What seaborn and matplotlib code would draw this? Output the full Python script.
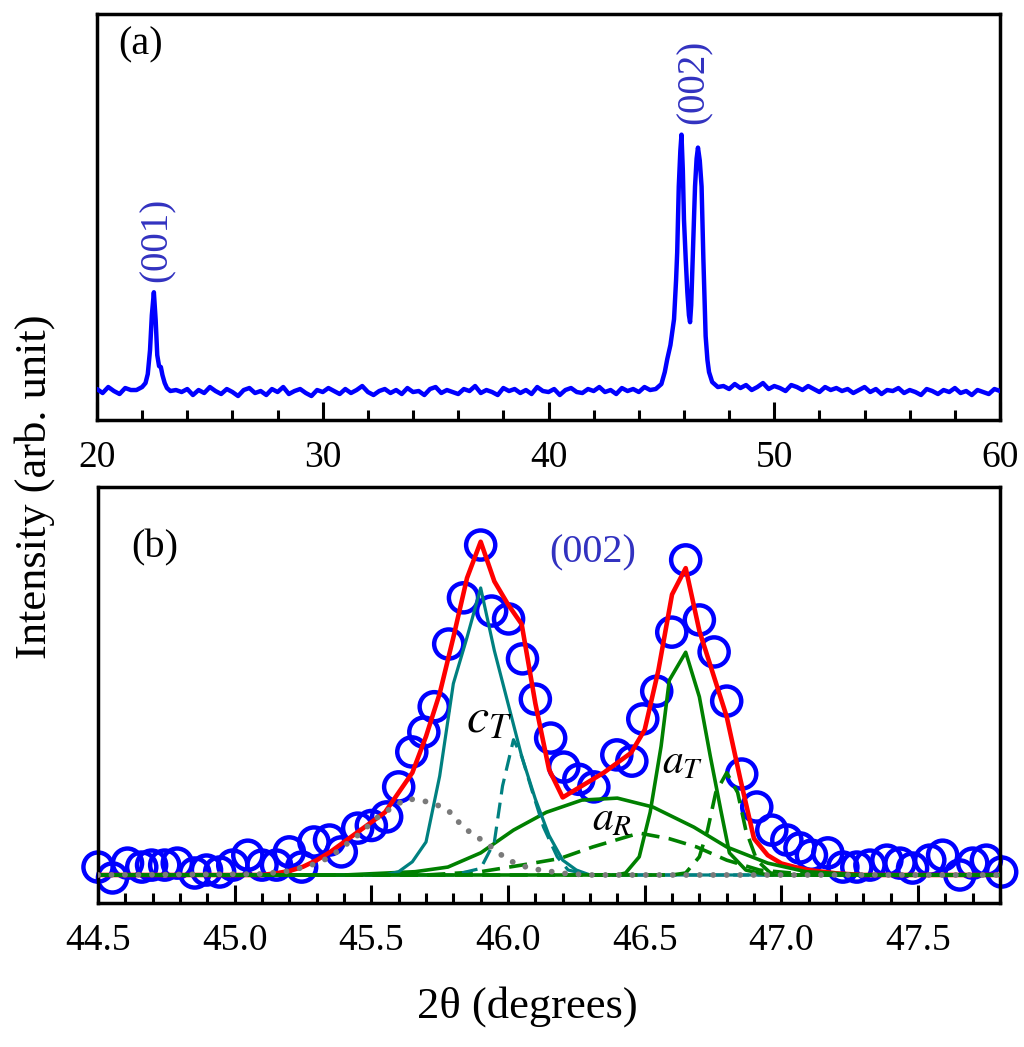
import numpy as np
import matplotlib
matplotlib.use('Agg')
import matplotlib.pyplot as plt
import seaborn as sns
from matplotlib.ticker import MultipleLocator, FormatStrFormatter

# ---------------- panel (a): wide 2theta scan ----------------
# scan step of the background parts is 0.25 deg, intensities read off the plot
base1_x = np.arange(20.0, 21.51, 0.25)
base1_y = [31, 27, 33, 29, 26, 32, 30]

peak001_x = [21.75, 22.0, 22.15, 22.25, 22.35, 22.43, 22.52, 22.6, 22.67, 22.75,
             22.83, 22.9, 23.0, 23.1, 23.25, 23.5]
peak001_y = [30, 33, 37, 46, 70, 105, 128, 100, 65, 54, 53, 45, 37, 32, 29, 30]

base2_x = np.arange(23.75, 44.51, 0.25)
base2_y = [28, 31, 25, 30, 27, 33, 29, 26, 31, 28, 24, 30, 32, 27, 29, 25, 31, 28, 33, 26,
           29, 31, 27, 24, 30, 28, 32, 29, 26, 31, 27, 30, 34, 28, 25, 29, 31, 27, 30, 26,
           32, 28, 29, 25, 31, 33, 27, 30, 28, 26, 31, 29, 34, 27, 30, 28, 25, 32, 29, 31,
           27, 30, 26, 33, 29, 28, 31, 25, 30, 32, 28, 27, 31, 29, 33, 28, 30, 26, 32, 29,
           31, 28, 33, 30]

peak002_x = [44.75, 45.0, 45.15, 45.26, 45.4, 45.56, 45.65, 45.70, 45.77, 45.84, 45.89,
             45.95, 46.0, 46.08, 46.15, 46.22, 46.27, 46.32, 46.37, 46.44, 46.49, 46.56,
             46.62, 46.7, 46.78, 46.86, 46.96, 47.04, 47.11, 47.25, 47.5]
peak002_y = [31, 36, 48, 61, 75, 101, 140, 168, 234, 270, 286, 250, 201, 160, 128, 105,
             98, 115, 151, 200, 234, 262, 273, 260, 234, 161, 84, 60, 48, 38, 33]

base3_x = np.arange(47.75, 60.01, 0.25)
base3_y = [34, 31, 36, 32, 35, 30, 33, 37, 31, 34, 32, 29, 35, 33, 30, 34, 31, 28, 33, 30,
           32, 29, 31, 27, 30, 33, 28, 31, 26, 30, 29, 32, 27, 30, 28, 25, 31, 29, 26, 30,
           28, 32, 27, 29, 25, 30, 28, 26, 31, 29]

# ---------------- panel (b): (002) peak fit ----------------
obs_x = [44.50, 44.553, 44.608, 44.66, 44.696, 44.744, 44.79, 44.854, 44.897, 44.945,
         44.993, 45.048, 45.10, 45.153, 45.20, 45.245, 45.29, 45.347, 45.39, 45.45,
         45.50, 45.556, 45.60, 45.648, 45.692, 45.73, 45.783, 45.837, 45.90, 45.94,
         46.002, 46.053, 46.10, 46.156, 46.204, 46.259, 46.314, 46.398, 46.453, 46.493,
         46.544, 46.599, 46.65, 46.70, 46.754, 46.80, 46.855, 46.91, 46.965, 47.02,
         47.068, 47.11, 47.17, 47.225, 47.276, 47.324, 47.386, 47.434, 47.48, 47.543,
         47.59, 47.653, 47.70, 47.75, 47.806]
obs_y = [0.024, -0.009, 0.036, 0.024, 0.03, 0.03, 0.036, 0.006, 0.015, 0.009,
         0.03, 0.06, 0.03, 0.03, 0.07, 0.024, 0.10, 0.106, 0.07, 0.142,
         0.15, 0.176, 0.267, 0.373, 0.433, 0.51, 0.70, 0.84, 1.0, 0.80,
         0.776, 0.655, 0.533, 0.415, 0.327, 0.29, 0.267, 0.364, 0.345, 0.473,
         0.557, 0.736, 0.955, 0.773, 0.676, 0.527, 0.306, 0.206, 0.136, 0.106,
         0.082, 0.06, 0.067, 0.024, 0.024, 0.03, 0.045, 0.036, 0.021, 0.045,
         0.06, 0.0, 0.036, 0.045, 0.009]

fit_x = [44.50, 45.10, 45.15, 45.20, 45.25, 45.30, 45.35, 45.40, 45.45, 45.50, 45.55,
         45.60, 45.65, 45.70, 45.75, 45.80, 45.85, 45.90, 45.95, 46.00, 46.05, 46.10,
         46.15, 46.20, 46.25, 46.30, 46.35, 46.40, 46.45, 46.50, 46.55, 46.60, 46.65,
         46.70, 46.75, 46.80, 46.85, 46.90, 46.95, 47.00, 47.05, 47.10, 47.15, 47.20,
         47.30, 47.80]
fit_y = [0, 0.0, 0.005, 0.012, 0.025, 0.045, 0.07, 0.10, 0.13, 0.16, 0.19,
         0.25, 0.31, 0.42, 0.55, 0.72, 0.90, 1.01, 0.89, 0.82, 0.76, 0.52,
         0.32, 0.235, 0.26, 0.285, 0.31, 0.34, 0.37, 0.44, 0.62, 0.85, 0.93,
         0.74, 0.61, 0.48, 0.29, 0.11, 0.06, 0.035, 0.024, 0.015, 0.01, 0.005,
         0.0, 0.0]

cT1_x = [44.5, 45.55, 45.60, 45.65, 45.70, 45.75, 45.80, 45.85, 45.90, 45.95, 46.00,
         46.05, 46.10, 46.15, 46.20, 46.25, 46.30, 47.8]
cT1_y = [0, 0, 0.01, 0.04, 0.10, 0.30, 0.58, 0.72, 0.87, 0.68, 0.52,
         0.36, 0.23, 0.12, 0.045, 0.015, 0, 0]
cT2_x = [44.5, 45.80, 45.90, 45.95, 45.98, 46.02, 46.05, 46.09, 46.13, 46.18, 46.22, 46.30, 47.8]
cT2_y = [0, 0, 0.02, 0.10, 0.27, 0.41, 0.36, 0.25, 0.145, 0.055, 0.015, 0, 0]

aT1_x = [44.5, 46.40, 46.43, 46.48, 46.52, 46.56, 46.59, 46.65, 46.70, 46.74, 46.78,
         46.81, 46.87, 46.95, 47.8]
aT1_y = [0, 0, 0.006, 0.055, 0.19, 0.39, 0.59, 0.675, 0.54, 0.36, 0.19, 0.067, 0.015, 0, 0]
aT2_x = [44.5, 46.60, 46.65, 46.70, 46.73, 46.76, 46.80, 46.84, 46.87, 46.91, 46.96, 47.05, 47.8]
aT2_y = [0, 0, 0.006, 0.055, 0.136, 0.25, 0.31, 0.25, 0.136, 0.045, 0.006, 0, 0]

aR1_x = [44.5, 45.40, 45.66, 45.78, 45.90, 46.02, 46.14, 46.27, 46.40, 46.53, 46.68,
         46.80, 46.95, 47.09, 47.30, 47.8]
aR1_y = [0, 0, 0.01, 0.024, 0.067, 0.136, 0.19, 0.227, 0.233, 0.206, 0.145,
         0.085, 0.036, 0.01, 0, 0]
aR2_x = [44.5, 45.70, 45.90, 46.05, 46.19, 46.31, 46.48, 46.59, 46.69, 46.80, 46.92,
         47.05, 47.20, 47.8]
aR2_y = [0, 0, 0.01, 0.03, 0.05, 0.085, 0.127, 0.11, 0.085, 0.045, 0.015, 0.005, 0, 0]

bg_x = [44.5, 45.10, 45.20, 45.30, 45.35, 45.45, 45.53, 45.63, 45.72, 45.78, 45.82,
        45.86, 45.92, 46.00, 46.08, 46.20, 46.30, 47.8]
bg_y = [0, 0.003, 0.012, 0.035, 0.055, 0.12, 0.18, 0.232, 0.22, 0.197, 0.16,
        0.13, 0.097, 0.045, 0.02, 0.005, 0, 0]

# ---------------- style ----------------
sns.set_style("ticks")
plt.rcParams['font.family'] = ['Liberation Serif', 'DejaVu Serif']
plt.rcParams['mathtext.fontset'] = 'stix'
plt.rcParams['axes.linewidth'] = 2.5
plt.rcParams['text.color'] = 'black'
plt.rcParams['axes.labelcolor'] = 'black'
plt.rcParams['xtick.color'] = 'black'
plt.rcParams['xtick.labelcolor'] = 'black'

BLUE = '#0000ff'
TEAL = '#008080'
GREEN = '#008000'
GREY = '#7a7a7a'
LABEL_BLUE = '#3232c0'

fig = plt.figure(figsize=(10.24, 10.47), dpi=100)
ax_a = fig.add_axes([0.0947, 0.5989, 0.8819, 0.3878])
ax_b = fig.add_axes([0.0957, 0.1375, 0.8809, 0.3974])


def line(ax, x, y, color, lw, ls='-', z=3, **kw):
    sns.lineplot(x=list(x), y=list(y), ax=ax, color=color, linewidth=lw, linestyle=ls,
                 sort=False, estimator=None, zorder=z, **kw)


def style_axis(ax, major, minor):
    ax.xaxis.set_major_locator(MultipleLocator(major))
    ax.xaxis.set_minor_locator(MultipleLocator(minor))
    ax.set_yticks([])
    ax.tick_params(axis='x', which='both', direction='in', top=False, bottom=True,
                   labelsize=27, pad=15, colors='black')
    ax.tick_params(axis='x', which='major', length=13, width=2.2)
    ax.tick_params(axis='x', which='minor', length=7, width=2.2)
    for s in ax.spines.values():
        s.set_visible(True)
        s.set_linewidth(2.5)
        s.set_color('black')
    ax.set_xlabel('')
    ax.set_ylabel('')


# panel (a)
scan_x = np.concatenate([base1_x, peak001_x, base2_x, peak002_x, base3_x])
scan_y = np.concatenate([base1_y, peak001_y, base2_y, peak002_y, base3_y])
line(ax_a, scan_x, scan_y, BLUE, 3.2)
ax_a.set_xlim(20, 60)
ax_a.set_ylim(0, 407)
style_axis(ax_a, 10, 2)
ax_a.text(0.048, 0.924, '(a)', transform=ax_a.transAxes, fontsize=29,
          ha='center', va='center')
ax_a.text(22.66, 181, '(001)', rotation=90, color=LABEL_BLUE, fontsize=28,
          ha='center', va='center')
ax_a.text(46.45, 339, '(002)', rotation=90, color=LABEL_BLUE, fontsize=28,
          ha='center', va='center')

# panel (b)
sns.scatterplot(x=obs_x, y=obs_y, ax=ax_b, marker='o', s=440, facecolor='none',
                edgecolor=BLUE, linewidth=3.2, clip_on=False, zorder=2)
line(ax_b, fit_x, fit_y, '#ff0000', 3.3, z=3)
line(ax_b, aR1_x, aR1_y, GREEN, 2.6, z=4)
line(ax_b, aR2_x, aR2_y, GREEN, 2.6, ls=(0, (5, 2.6)), z=4)
line(ax_b, cT1_x, cT1_y, TEAL, 2.3, z=4)
line(ax_b, cT2_x, cT2_y, TEAL, 2.3, ls=(0, (5, 2.6)), z=4)
line(ax_b, aT1_x, aT1_y, GREEN, 2.6, z=4)
line(ax_b, aT2_x, aT2_y, GREEN, 2.6, ls=(0, (5, 2.6)), z=4)
line(ax_b, bg_x, bg_y, GREY, 4.2, ls=(0, (0.01, 2.3)), z=5, dash_capstyle='round')
ax_b.set_xlim(44.5, 47.8)
ax_b.set_ylim(-0.085, 1.176)
style_axis(ax_b, 0.5, 0.1)
ax_b.xaxis.set_major_formatter(FormatStrFormatter('%.1f'))
ax_b.text(0.063, 0.853, '(b)', transform=ax_b.transAxes, fontsize=29,
          ha='center', va='center')
ax_b.text(46.31, 0.976, '(002)', color=LABEL_BLUE, fontsize=29, ha='center', va='center')
ax_b.text(45.93, 0.47, r'$c_T$', fontsize=36, ha='center', va='center', zorder=6)
ax_b.text(46.64, 0.34, r'$a_T$', fontsize=30, ha='center', va='center', zorder=6)
ax_b.text(46.38, 0.167, r'$a_R$', fontsize=30, ha='center', va='center', zorder=6)

ax_b.set_xlabel('2θ (degrees)', fontsize=32, color='black')
ax_b.xaxis.set_label_coords(0.476, -0.2)
fig.text(0.034, 0.535, 'Intensity (arb. unit)', rotation=90, fontsize=32,
         ha='center', va='center', color='black')

fig.savefig('out.png', dpi=100)
